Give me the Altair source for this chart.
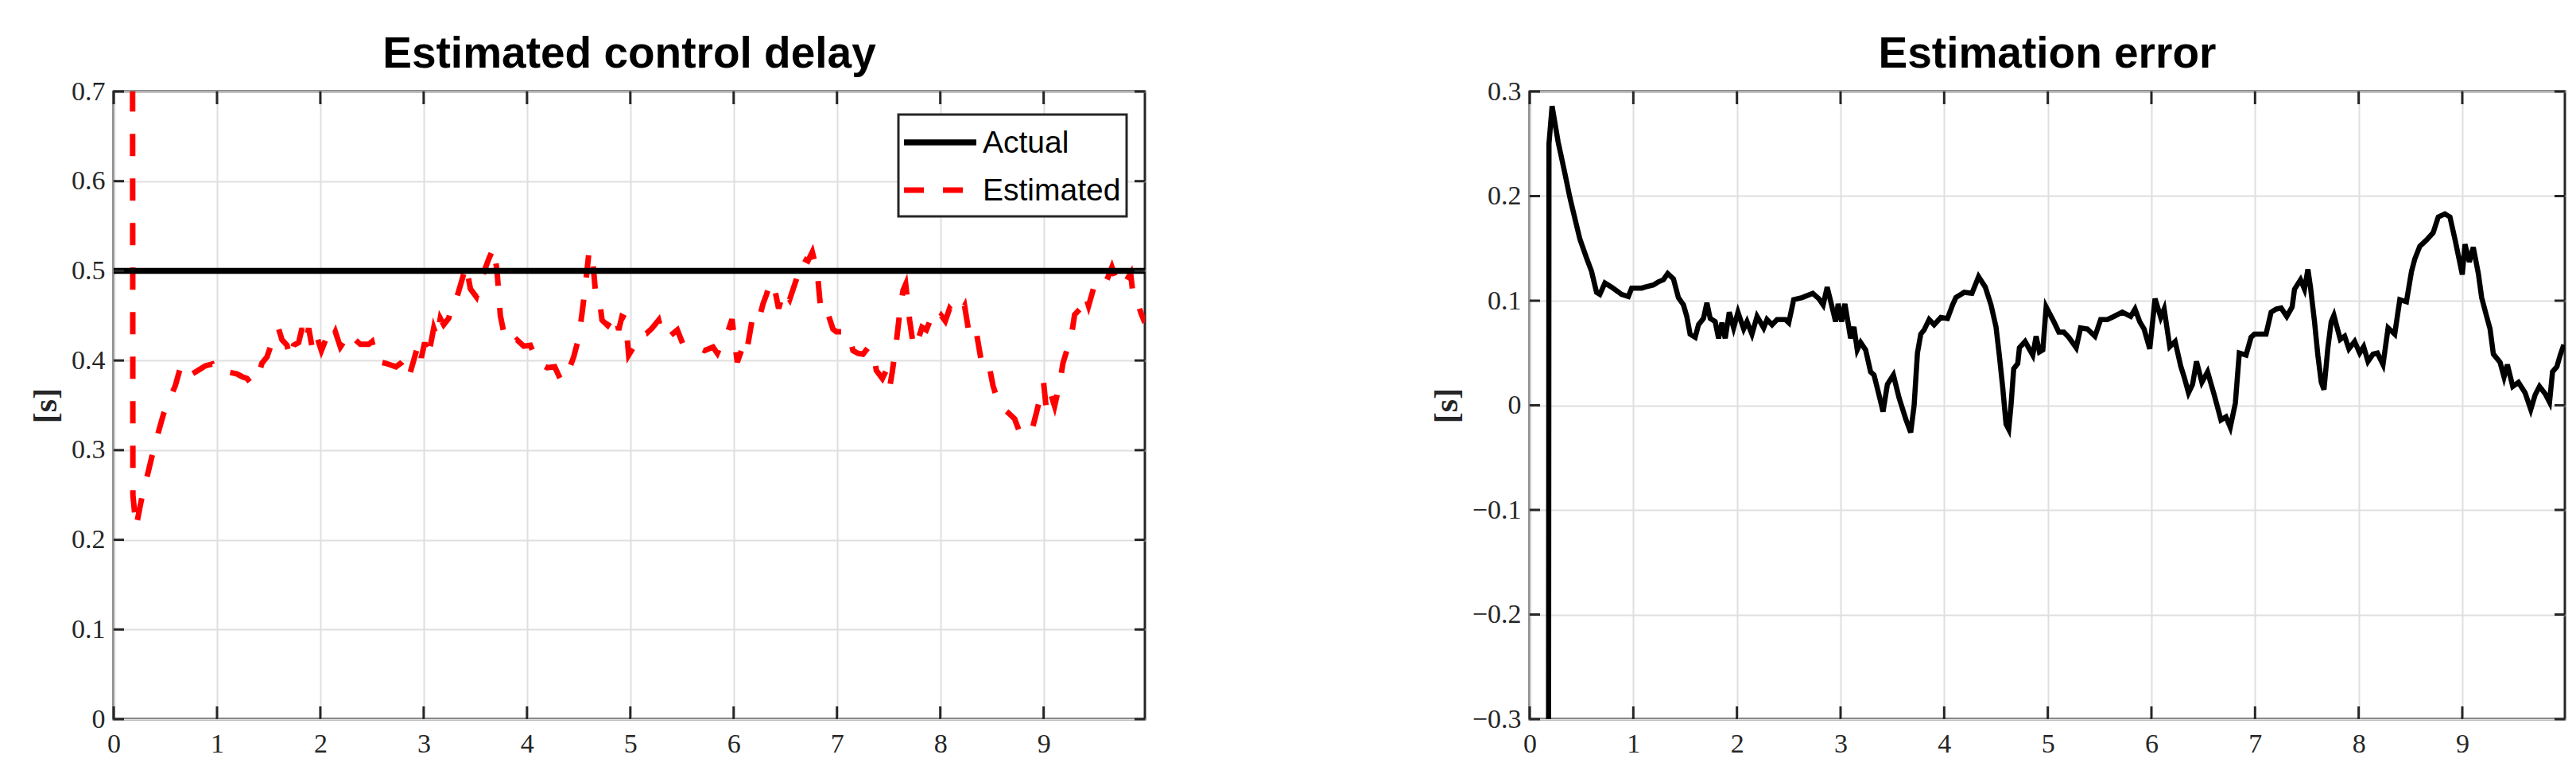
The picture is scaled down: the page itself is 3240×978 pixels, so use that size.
import altair as alt
import pandas as pd

# ---------------- data ----------------
t_vals = [
    0.18, 0.186, 0.216, 0.274, 0.339, 0.387, 0.435, 0.484, 0.548, 0.597,
    0.645, 0.677, 0.726, 0.79, 0.887, 0.952, 0.984, 1.081, 1.113, 1.194,
    1.242, 1.29, 1.332, 1.387, 1.435, 1.484, 1.516, 1.548, 1.597, 1.629,
    1.677, 1.71, 1.742, 1.79, 1.823, 1.855, 1.887, 1.926, 1.968, 2.01,
    2.065, 2.097, 2.145, 2.194, 2.258, 2.29, 2.339, 2.387, 2.468, 2.5,
    2.548, 2.629, 2.732, 2.79, 2.832, 2.871, 2.913, 2.952, 2.977, 3.01,
    3.042, 3.074, 3.097, 3.129, 3.161, 3.194, 3.242, 3.29, 3.323, 3.371,
    3.41, 3.452, 3.51, 3.565, 3.629, 3.677, 3.71, 3.742, 3.774, 3.806,
    3.855, 3.903, 3.968, 4.032, 4.081, 4.113, 4.194, 4.268, 4.332, 4.397,
    4.452, 4.5, 4.532, 4.565, 4.597, 4.623, 4.645, 4.671, 4.71, 4.726,
    4.781, 4.855, 4.887, 4.919, 4.952, 4.984, 5.058, 5.106, 5.155, 5.203,
    5.274, 5.316, 5.381, 5.455, 5.51, 5.574, 5.639, 5.719, 5.8, 5.842,
    5.887, 5.929, 5.984, 6.035, 6.09, 6.123, 6.177, 6.229, 6.284, 6.316,
    6.358, 6.397, 6.435, 6.487, 6.542, 6.606, 6.671, 6.719, 6.761, 6.81,
    6.848, 6.913, 6.961, 6.994, 7.106, 7.155, 7.203, 7.252, 7.306, 7.358,
    7.381, 7.439, 7.477, 7.51, 7.535, 7.574, 7.606, 7.639, 7.665, 7.703,
    7.735, 7.761, 7.79, 7.823, 7.865, 7.906, 7.961, 8.01, 8.048, 8.09,
    8.139, 8.181, 8.235, 8.284, 8.348, 8.397, 8.461, 8.51, 8.542, 8.59,
    8.655, 8.719, 8.768, 8.832, 8.881, 8.929, 8.977, 9.0, 9.026, 9.068,
    9.106, 9.155, 9.187, 9.235, 9.268, 9.3, 9.365, 9.403, 9.435, 9.487,
    9.542, 9.606, 9.661, 9.703, 9.745, 9.8, 9.842, 9.871, 9.913, 9.945,
    9.98,
]

estimated_vals = [
    1.1, 0.25, 0.214, 0.248, 0.278, 0.301, 0.321, 0.341, 0.359, 0.372,
    0.392, 0.394, 0.383, 0.387, 0.394, 0.396, 0.388, 0.388, 0.387, 0.385,
    0.382, 0.38, 0.374, 0.379, 0.397, 0.404, 0.415, 0.432, 0.435, 0.423,
    0.417, 0.402, 0.417, 0.420, 0.436, 0.421, 0.436, 0.411, 0.426, 0.411,
    0.427, 0.420, 0.432, 0.415, 0.426, 0.418, 0.423, 0.418, 0.418, 0.421,
    0.399, 0.397, 0.393, 0.398, 0.404, 0.387, 0.404, 0.420, 0.403, 0.420,
    0.403, 0.422, 0.436, 0.425, 0.447, 0.440, 0.447, 0.468, 0.471, 0.490,
    0.506, 0.480, 0.471, 0.493, 0.513, 0.526, 0.500, 0.45, 0.432, 0.428,
    0.418, 0.423, 0.416, 0.417, 0.404, 0.397, 0.392, 0.393, 0.377, 0.387,
    0.404, 0.425, 0.452, 0.483, 0.518, 0.523, 0.500, 0.465, 0.460, 0.445,
    0.439, 0.452, 0.434, 0.449, 0.447, 0.406, 0.420, 0.430, 0.430, 0.435,
    0.445, 0.426, 0.427, 0.434, 0.418, 0.418, 0.415, 0.411, 0.415, 0.408,
    0.420, 0.427, 0.446, 0.398, 0.416, 0.408, 0.444, 0.439, 0.463, 0.473,
    0.488, 0.480, 0.458, 0.478, 0.468, 0.490, 0.514, 0.511, 0.521, 0.498,
    0.450, 0.452, 0.435, 0.432, 0.432, 0.411, 0.408, 0.407, 0.415, 0.406,
    0.389, 0.380, 0.389, 0.370, 0.387, 0.420, 0.452, 0.478, 0.485, 0.445,
    0.420, 0.414, 0.425, 0.437, 0.434, 0.446, 0.439, 0.450, 0.444, 0.458,
    0.451, 0.450, 0.461, 0.426, 0.432, 0.399, 0.401, 0.372, 0.360, 0.348,
    0.342, 0.335, 0.320, 0.317, 0.320, 0.341, 0.364, 0.375, 0.346, 0.363,
    0.349, 0.374, 0.397, 0.415, 0.427, 0.451, 0.459, 0.473, 0.461, 0.482,
    0.478, 0.488, 0.504, 0.490, 0.482, 0.489, 0.497, 0.468, 0.463, 0.452,
    0.442,
]

error_vals = [
    -0.6, 0.25, 0.286, 0.252, 0.222, 0.199, 0.179, 0.159, 0.141, 0.128,
    0.108, 0.106, 0.117, 0.113, 0.106, 0.104, 0.112, 0.112, 0.113, 0.115,
    0.118, 0.12, 0.126, 0.121, 0.103, 0.096, 0.085, 0.068, 0.065, 0.077,
    0.083, 0.098, 0.083, 0.080, 0.064, 0.079, 0.064, 0.089, 0.074, 0.089,
    0.073, 0.080, 0.068, 0.085, 0.074, 0.082, 0.077, 0.082, 0.082, 0.079,
    0.101, 0.103, 0.107, 0.102, 0.096, 0.113, 0.096, 0.080, 0.097, 0.080,
    0.097, 0.078, 0.064, 0.075, 0.053, 0.060, 0.053, 0.032, 0.029, 0.010,
    -0.006, 0.020, 0.029, 0.007, -0.013, -0.026, 0.000, 0.05, 0.068, 0.072,
    0.082, 0.077, 0.084, 0.083, 0.096, 0.103, 0.108, 0.107, 0.123, 0.113,
    0.096, 0.075, 0.048, 0.017, -0.018, -0.023, 0.000, 0.035, 0.040, 0.055,
    0.061, 0.048, 0.066, 0.051, 0.053, 0.094, 0.080, 0.070, 0.070, 0.065,
    0.055, 0.074, 0.073, 0.066, 0.082, 0.082, 0.085, 0.089, 0.085, 0.092,
    0.080, 0.073, 0.054, 0.102, 0.084, 0.092, 0.056, 0.061, 0.037, 0.027,
    0.012, 0.020, 0.042, 0.022, 0.032, 0.010, -0.014, -0.011, -0.021, 0.002,
    0.050, 0.048, 0.065, 0.068, 0.068, 0.089, 0.092, 0.093, 0.085, 0.094,
    0.111, 0.120, 0.111, 0.130, 0.113, 0.080, 0.048, 0.022, 0.015, 0.055,
    0.080, 0.086, 0.075, 0.063, 0.066, 0.054, 0.061, 0.050, 0.056, 0.042,
    0.049, 0.050, 0.039, 0.074, 0.068, 0.101, 0.099, 0.128, 0.140, 0.152,
    0.158, 0.165, 0.180, 0.183, 0.180, 0.159, 0.136, 0.125, 0.154, 0.137,
    0.151, 0.126, 0.103, 0.085, 0.073, 0.049, 0.041, 0.027, 0.039, 0.018,
    0.022, 0.012, -0.004, 0.010, 0.018, 0.011, 0.003, 0.032, 0.037, 0.048,
    0.058,
]

actual_t = [0.0, 9.98]
actual_vals = [0.5, 0.5]

x_ticks = [0, 1, 2, 3, 4, 5, 6, 7, 8, 9]
y_ticks_left = [0, 0.1, 0.2, 0.3, 0.4, 0.5, 0.6, 0.7]
y_ticks_right = [-0.3, -0.2, -0.1, 0, 0.1, 0.2, 0.3]

panel_titles = ["Estimated control delay", "Estimation error"]
y_title = "[s]"
legend_labels = ["Actual", "Estimated"]

# ---------------- style ----------------
DARK = "#262626"
SANS = "Liberation Sans, sans-serif"
SERIF = "Liberation Serif, serif"
W1, W2, H = 1297, 1302, 789
XDOM1, XDOM2 = [0, 9.98], [0, 9.99]
YDOM1, YDOM2 = [0, 0.7], [-0.3, 0.3]

est_df = pd.DataFrame({"t": t_vals, "v": estimated_vals})
err_df = pd.DataFrame({"t": t_vals, "v": error_vals})
act_df = pd.DataFrame({"t": actual_t, "v": actual_vals})
xt_df = pd.DataFrame({"t": x_ticks})
ytl_df = pd.DataFrame({"v": y_ticks_left})
ytr_df = pd.DataFrame({"v": y_ticks_right})

X_AXIS = alt.Axis(values=x_ticks, format="d", title=None)


def x_enc(dom):
    return alt.X("t:Q", scale=alt.Scale(domain=dom, nice=False, zero=False), axis=X_AXIS)


def y_enc(dom, ticks):
    return alt.Y("v:Q", scale=alt.Scale(domain=dom, nice=False, zero=False),
                 axis=alt.Axis(values=ticks, format="~g", title=y_title))


def tick_layers(xdom, ydom, yticks, ydf, w):
    top = alt.Chart(xt_df).mark_rule(color=DARK, strokeWidth=3).encode(
        x=x_enc(xdom), y=alt.value(0), y2=alt.value(16))
    bot = alt.Chart(xt_df).mark_rule(color=DARK, strokeWidth=3).encode(
        x=x_enc(xdom), y=alt.value(H), y2=alt.value(H - 16))
    lef = alt.Chart(ydf).mark_rule(color=DARK, strokeWidth=3).encode(
        y=y_enc(ydom, yticks), x=alt.value(0), x2=alt.value(13))
    rig = alt.Chart(ydf).mark_rule(color=DARK, strokeWidth=3).encode(
        y=y_enc(ydom, yticks), x=alt.value(w), x2=alt.value(w - 13))
    return [top, bot, lef, rig]


est_line = alt.Chart(est_df).mark_line(
    color="#ff0000", strokeWidth=7, strokeDash=[28, 28], clip=True
).encode(x=x_enc(XDOM1), y=y_enc(YDOM1, y_ticks_left))

act_line = alt.Chart(act_df).mark_line(color="black", strokeWidth=7.5, clip=True).encode(
    x=x_enc(XDOM1), y=y_enc(YDOM1, y_ticks_left))

# legend (drawn inside the plot, top right)
leg_df = pd.DataFrame({"label": legend_labels})
first = alt.datum.label == legend_labels[0]
second = alt.datum.label == legend_labels[1]
leg_box = alt.Chart(leg_df).transform_filter(first).mark_rect(
    fill="white", stroke=DARK, strokeWidth=3
).encode(x=alt.value(987), x2=alt.value(1274), y=alt.value(29), y2=alt.value(157))
leg_sym_a = alt.Chart(leg_df).transform_filter(first).mark_rule(
    color="black", strokeWidth=7.5).encode(x=alt.value(994), x2=alt.value(1085), y=alt.value(64))
leg_sym_e = alt.Chart(leg_df).transform_filter(second).mark_rule(
    color="#ff0000", strokeWidth=7, strokeDash=[25, 24]).encode(
    x=alt.value(994), x2=alt.value(1085), y=alt.value(124))
leg_txt_a = alt.Chart(leg_df).transform_filter(first).mark_text(
    font=SANS, fontSize=39, align="left", baseline="middle", color="black").encode(
    x=alt.value(1093), y=alt.value(65), text="label:N")
leg_txt_e = alt.Chart(leg_df).transform_filter(second).mark_text(
    font=SANS, fontSize=39, align="left", baseline="middle", color="black").encode(
    x=alt.value(1093), y=alt.value(125), text="label:N")

left = alt.layer(
    est_line, act_line,
    *tick_layers(XDOM1, YDOM1, y_ticks_left, ytl_df, W1),
    leg_box, leg_sym_a, leg_sym_e, leg_txt_a, leg_txt_e,
).properties(width=W1, height=H, title=panel_titles[0])

err_line = alt.Chart(err_df).mark_line(color="black", strokeWidth=6.5, clip=True).encode(
    x=x_enc(XDOM2), y=y_enc(YDOM2, y_ticks_right))

right = alt.layer(
    err_line,
    *tick_layers(XDOM2, YDOM2, y_ticks_right, ytr_df, W2),
).properties(width=W2, height=H, title=panel_titles[1])

chart = alt.hconcat(left, right, spacing=353).resolve_scale(x="independent", y="independent").properties(
    padding={"left": 27, "top": 31, "right": 0, "bottom": 0}
).configure_view(
    stroke=DARK, strokeWidth=3
).configure_axis(
    grid=True, gridColor="#dfdfdf", gridWidth=2, domain=False, ticks=False,
    labelFont=SERIF, labelFontSize=34, labelColor=DARK, labelFlush=False,
    labelOverlap=False, labelBound=False,
    titleFont=SERIF, titleFontSize=42, titleFontWeight="bold", titleColor=DARK,
).configure_axisX(labelPadding=14).configure_axisY(labelPadding=11, titlePadding=10).configure_title(
    font=SANS, fontSize=55, fontWeight="bold", color="black", anchor="middle",
    baseline="alphabetic", offset=1,
)

chart.save("out.html", embed_options={"renderer": "svg", "actions": False})
